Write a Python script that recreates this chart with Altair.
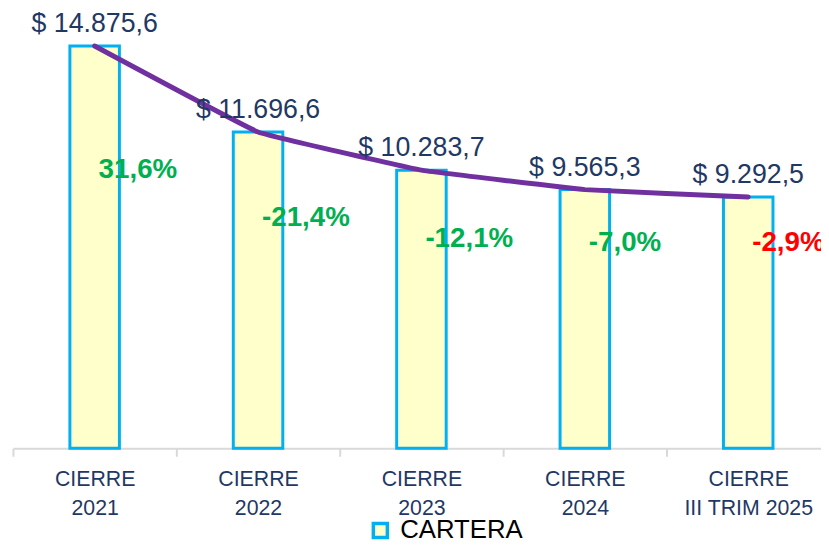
import altair as alt
import pandas as pd

periods = ["CIERRE\n2021", "CIERRE\n2022", "CIERRE\n2023", "CIERRE\n2024", "CIERRE\nIII TRIM 2025"]
cartera = [14875.6, 11696.6, 10283.7, 9565.3, 9292.5]
variacion = [31.6, -21.4, -12.1, -7.0, -2.9]
pct_label_level = [10280, 8530, 7720, 7580, 7580]
serie = ["CARTERA"] * 5


def money(v):
    s = f"{v:,.1f}".replace(",", "X").replace(".", ",").replace("X", ".")
    return "$ " + s


def pct(v):
    return f"{v:.1f}".replace(".", ",") + "%"


df = pd.DataFrame({
    "periodo": periods,
    "cartera": cartera,
    "serie": serie,
    "valor_txt": [money(v) for v in cartera],
    "var_txt": [pct(v) for v in variacion],
    "nivel": pct_label_level,
})

FONT = "Liberation Sans"
NAVY = "#1F3864"

x = alt.X(
    "periodo:N",
    sort=periods,
    scale=alt.Scale(range=[0, 825], paddingInner=0, paddingOuter=0),
    axis=alt.Axis(
        title=None,
        labelExpr="split(datum.label, '\\n')",
        labelFont=FONT,
        labelFontSize=21.5,
        labelColor=NAVY,
        labelLineHeight=29,
        labelPadding=13,
        labelAngle=0,
        labelOverlap=False,
        tickOffset=-82.5,
        labelOffset=82.5,
        tickSize=8,
        tickColor="#D9D9D9",
        tickWidth=2,
        domainColor="#D9D9D9",
        domainWidth=2,
        grid=False,
    ),
)
y_scale = alt.Scale(domain=[0, 16000], nice=False, zero=True)

base = alt.Chart(df)

bars = base.mark_bar(size=50, stroke="#00B0F0", strokeWidth=3).encode(
    x=x,
    y=alt.Y("cartera:Q", scale=y_scale, axis=None),
    fill=alt.Fill(
        "serie:N",
        scale=alt.Scale(domain=["CARTERA"], range=["#FFFFCC"]),
        legend=alt.Legend(
            title=None,
            orient="none",
            legendX=358,
            legendY=507,
            padding=0,
            symbolType="square",
            symbolSize=200,
            symbolStrokeColor="#00B0F0",
            symbolStrokeWidth=3.5,
            symbolFillColor="#FFFFCC",
            symbolOpacity=1,
            labelFont=FONT,
            labelFontSize=26,
            labelColor="#000000",
            labelOffset=7,
        ),
    ),
)

line = base.mark_line(
    color="#7030A0", strokeWidth=5, interpolate="cardinal", tension=0.8, strokeCap="round"
).encode(
    x=x,
    y=alt.Y("cartera:Q", scale=y_scale),
)

values = base.mark_text(
    baseline="alphabetic", align="center", dy=-14, font=FONT, fontSize=27, color=NAVY
).encode(
    x=x,
    y=alt.Y("cartera:Q", scale=y_scale),
    text="valor_txt:N",
)

pcts = base.mark_text(
    baseline="middle", align="left", dx=4, font=FONT, fontSize=28, fontWeight="bold"
).encode(
    x=x,
    y=alt.Y("nivel:Q", scale=y_scale),
    text="var_txt:N",
    color=alt.condition(
        "datum.periodo == 'CIERRE\\nIII TRIM 2025'", alt.value("#FF0000"), alt.value("#00B050")
    ),
)

chart = (
    alt.layer(bars, line, values, pcts)
    .properties(
        width=816,
        height=437,
        autosize=alt.AutoSizeParams(type="none"),
        padding={"left": 5, "top": 5, "right": 0, "bottom": 96},
    )
    .configure_view(stroke=None)
)

chart.save("out.html", embed_options={"renderer": "svg", "actions": False})
